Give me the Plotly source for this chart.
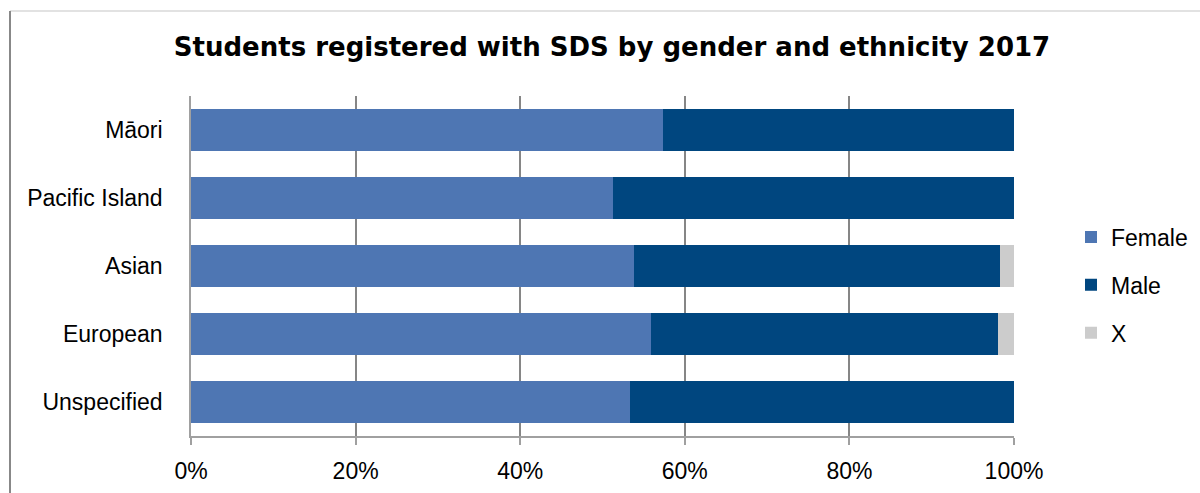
import plotly.graph_objects as go

categories = ["Māori", "Pacific Island", "Asian", "European", "Unspecified"]
female = [0.574, 0.513, 0.538, 0.559, 0.533]
male = [0.426, 0.487, 0.445, 0.421, 0.467]
x_other = [0.0, 0.0, 0.017, 0.020, 0.0]
tick_vals = [0, 0.2, 0.4, 0.6, 0.8, 1.0]
tick_text = ["0%", "20%", "40%", "60%", "80%", "100%"]

series = [("Female", female, "#4E76B3"), ("Male", male, "#00467F"), ("X", x_other, "#CCCCCC")]

fig = go.Figure()
for name, vals, col in series:
    fig.add_trace(go.Bar(
        y=categories, x=vals, name=name, orientation="h",
        marker=dict(color=col, line=dict(width=0)),
        legendgroup=name,
    ))

W, H = 1200, 493
L, R, T, B = 191, 186, 96, 57
pw, ph = W - L - R, H - T - B

def px_x(p):
    return (p - L) / pw

def px_y(p):
    return (H - B - p) / ph

fig.update_layout(
    width=W, height=H,
    margin=dict(l=L, r=R, t=T, b=B, pad=0, autoexpand=False),
    paper_bgcolor="white", plot_bgcolor="white",
    barmode="stack", bargap=0.37,
    font=dict(family="Liberation Sans, Arial, sans-serif", size=23, color="#000000"),
    title=dict(
        text="<b>Students registered with SDS by gender and ethnicity 2017</b>",
        font=dict(family="DejaVu Sans, sans-serif", size=26, color="#000000"),
        x=612 / W, xanchor="center", xref="container",
        y=1 - 47 / H, yanchor="middle", yref="container",
    ),
    legend=dict(
        x=px_x(1071), xanchor="left", y=px_y(285), yanchor="middle",
        traceorder="grouped", tracegroupgap=15,
        font=dict(size=23), bgcolor="rgba(0,0,0,0)",
    ),
    xaxis=dict(
        range=[0, 1], tickvals=tick_vals, ticktext=tick_text,
        showgrid=True, gridcolor="#868686", gridwidth=2,
        showline=True, linecolor="#A0A0A0", linewidth=2,
        ticks="outside", ticklen=7, tickcolor="#A0A0A0", tickwidth=1.5,
        zeroline=False, ticklabelstandoff=6, fixedrange=True,
    ),
    yaxis=dict(
        autorange="reversed", showgrid=False,
        showline=True, linecolor="#A0A0A0", linewidth=1.5,
        ticks="", ticklabelstandoff=22, fixedrange=True,
    ),
    shapes=[
        dict(type="line", xref="paper", yref="paper",
             x0=px_x(10), x1=px_x(1200), y0=px_y(11), y1=px_y(11),
             line=dict(color="#D9D9D9", width=1.5)),
        dict(type="line", xref="paper", yref="paper",
             x0=px_x(10), x1=px_x(10), y0=px_y(11), y1=px_y(493),
             line=dict(color="#888888", width=2)),
    ],
)

fig.write_html("out.html")
